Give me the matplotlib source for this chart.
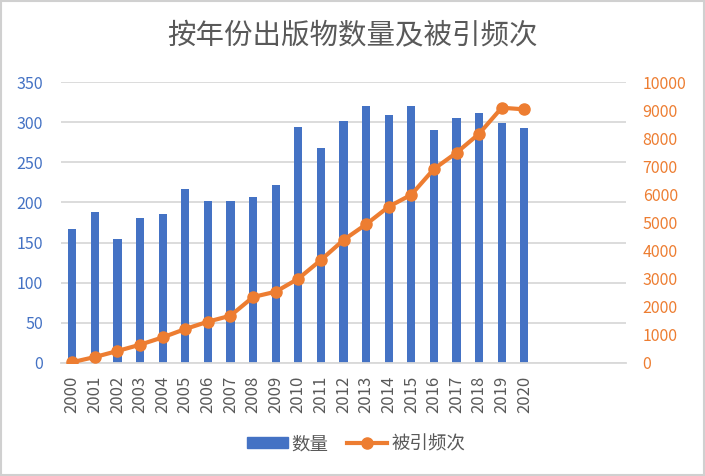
import matplotlib
matplotlib.use("Agg")
import matplotlib.pyplot as plt
from matplotlib.patches import Rectangle
from matplotlib.lines import Line2D

plt.rcParams['font.family'] = ['Noto Sans CJK SC', 'DejaVu Sans']

years = [str(y) for y in range(2000, 2021)]
counts = [167, 188, 155, 181, 186, 217, 202, 202, 207, 222, 294, 268, 301,
          320, 309, 320, 290, 305, 311, 299, 293]
citations = [30, 213, 427, 651, 913, 1210, 1470, 1684, 2349, 2537, 3000, 3665,
             4377, 4936, 5563, 5990, 6904, 7484, 8160, 9085, 9027]
title = "按年份出版物数量及被引频次"
bar_label = "数量"
line_label = "被引频次"

blue = "#4472C4"
orange = "#ED7D31"
gray_text = "#595959"
grid_c = "#D9D9D9"

fig = plt.figure(figsize=(7.05, 4.76), dpi=100)
fig.patches.append(Rectangle((0.002, 0.002), 0.996, 0.996, transform=fig.transFigure,
                             fill=False, edgecolor="#D0D0D0", linewidth=1.5))
ax = fig.add_axes([0.0865, 0.2374, 0.8015, 0.5903])
x = list(range(len(years)))
ax.bar(x, counts, width=0.36, color=blue, zorder=2)
ax.set_xlim(-0.5, 24.5)
ax.set_ylim(0, 350)
ax.set_yticks(range(0, 351, 50))
ax.set_xticks(x)
ax.set_xticklabels(years, rotation=90, color=gray_text, fontsize=12)
ax.tick_params(axis='y', length=0, pad=13, labelsize=11.5, labelcolor=blue)
ax.tick_params(axis='x', length=0, pad=9)
ax.grid(axis='y', color=grid_c, linewidth=1.3, zorder=0)
for s in ['top', 'left', 'right']:
    ax.spines[s].set_visible(False)
ax.spines['bottom'].set_color(grid_c)
ax.spines['bottom'].set_linewidth(1.3)
ax.set_axisbelow(True)

ax2 = ax.twinx()
ax2.plot(x, citations, color=orange, linewidth=3, marker='o', markersize=8, zorder=3)
ax2.set_ylim(0, 10000)
ax2.set_yticks(range(0, 10001, 1000))
ax2.tick_params(axis='y', length=0, pad=12, labelsize=11.5, labelcolor=orange)
for s in ['top', 'left', 'right', 'bottom']:
    ax2.spines[s].set_visible(False)

fig.text(0.5, 0.926, title, ha='center', va='center', fontsize=20.5, color=gray_text)

handles = [Rectangle((0, 0), 1, 1, color=blue),
           Line2D([0], [0], color=orange, linewidth=3, marker='o', markersize=8)]
fig.legend(handles, [bar_label, line_label], loc='center', bbox_to_anchor=(0.505, 0.067),
           ncol=2, frameon=False, fontsize=13.3, labelcolor=gray_text,
           handlelength=2.2, handleheight=0.55, handletextpad=0.2, columnspacing=1.0)

fig.savefig("out.png", dpi=100)
